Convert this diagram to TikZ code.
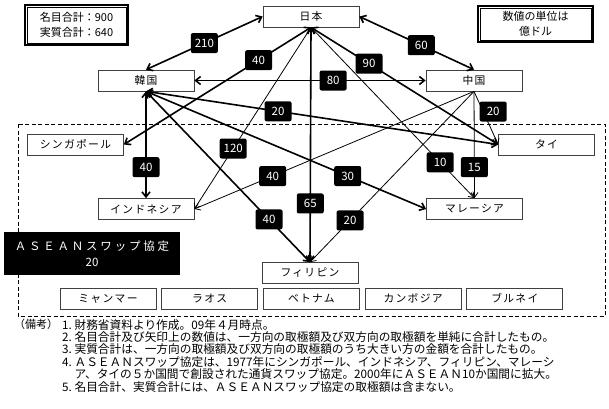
\documentclass[tikz,border=0pt]{standalone}
\usepackage{fontspec}
\setmainfont{Noto Sans CJK JP}
\newfontfamily\jpbox[LetterSpace=12]{Noto Sans CJK JP}
\newfontfamily\jpwide[LetterSpace=24]{Noto Sans CJK JP}
\usetikzlibrary{arrows.meta,positioning}

\begin{document}
\begin{tikzpicture}[
    x=1pt, y=-1pt,
    node distance=4pt and 5pt,
    cbox/.style={rectangle, draw=black!75, fill=white, line width=0.7pt, minimum width=96pt, minimum height=21pt, inner sep=0pt, font=\jpbox\fontsize{10.8}{12}\selectfont},
    val/.style={rectangle, fill=black, text=white, rounded corners=2pt, minimum width=27pt, minimum height=20pt, inner sep=1pt, font=\fontsize{11.5}{12}\selectfont},
    infobox/.style={rectangle, draw, line width=1.3pt, align=center, inner sep=0pt, font=\fontsize{11}{15}\selectfont},
    inframe/.style={line width=0.6pt},
    biarrow/.style={{Straight Barb[length=5pt,width=8pt]}-{Straight Barb[length=5pt,width=8pt]}, line width=1.6pt},
    uniarrow/.style={-{Straight Barb[length=5pt,width=7pt]}, line width=0.8pt}
]
    \useasboundingbox (0,0) rectangle (609,408);

    % ASEAN frame
    \draw[line width=1pt, dash pattern=on 4pt off 2.5pt] (18,124) rectangle (605,316);

    % countries
    \node[cbox] (jp) at (311,16.5) {日本};
    \node[cbox] (kr) at (146,80.5) {韓国};
    \node[cbox] (ch) at (474,80.5) {中国};
    \node[cbox] (sg) at (75.5,144.5) {シンガポール};
    \node[cbox] (th) at (546.5,144.5) {タイ};
    \node[cbox] (id) at (146,209) {インドネシア};
    \node[cbox] (my) at (474.5,209) {マレーシア};
    \node[cbox] (ph) at (310,273) {フィリピン};
    \node[cbox] (mm) at (108,298.5) {ミャンマー};
    \node[cbox, right=of mm] (la) {ラオス};
    \node[cbox, right=of la] (vn) {ベトナム};
    \node[cbox, right=of vn] (kh) {カンボジア};
    \node[cbox, right=of kh] (bn) {ブルネイ};

    \node[fill=black, text=white, minimum width=176pt, minimum height=43pt, inner sep=0pt, align=center, font=\fontsize{11.5}{16}\selectfont] (cmi) at (92,253.5) {{\jpwide ＡＳＥＡＮスワップ協定}\\20};

    \node[infobox, minimum width=103pt, minimum height=40pt] (total) at (76.5,25) {名目合計：900\\実質合計：640};
    \draw[inframe] ([xshift=2.6pt,yshift=-2.6pt]total.north west) rectangle ([xshift=-2.6pt,yshift=2.6pt]total.south east);
    \node[infobox, minimum width=115pt, minimum height=36pt] (unit) at (535.5,24) {数値の単位は\\億ドル};
    \draw[inframe] ([xshift=2.6pt,yshift=-2.6pt]unit.north west) rectangle ([xshift=-2.6pt,yshift=2.6pt]unit.south east);

    % two-way swaps
    \draw[biarrow] (jp.west) -- node[val, pos=0.5] {210} (kr.north);
    \draw[biarrow] (jp.east) -- node[val, pos=0.54] {60} (ch.north);
    \draw[biarrow] (ch.west) -- node[val, pos=0.4] {80} (kr.east);
    \draw[biarrow] (jp.south) -- node[val, pos=0.28] {40} (sg.east);
    \draw[biarrow] (jp.south) -- node[val, pos=0.31] {90} (th.west);
    \draw[biarrow] (jp.south) -- node[val, pos=0.75] {65} (ph.north);
    \draw[biarrow] (kr.south) -- node[val, pos=0.71] {40} (id.north);
    \draw[biarrow] (kr.south) -- node[val, pos=0.375] {20} (th.west);
    \draw[biarrow] (kr.south) -- node[val, pos=0.72] {30} (my.west);
    \draw[biarrow] (kr.south) -- node[val, pos=0.75] {40} (ph.north);
    % one-way swaps
    \draw[uniarrow] (jp.south) -- node[val, pos=0.667] {120} (id.east);
    \draw[uniarrow] (jp.south) -- node[val, pos=0.79] {10} (my.north);
    \draw[uniarrow] (ch.south) -- node[val, pos=0.72] {40} (id.east);
    \draw[uniarrow] (ch.south) -- node[val, pos=0.756] {20} (ph.north);
    \draw[uniarrow] (ch.south) -- node[val, pos=0.71] {15} (my.north);
    \draw[uniarrow] (ch.south) -- node[val, pos=0.38, xshift=10pt] {20} (th.west);

    % notes
    \node[anchor=north west, inner sep=0pt, font=\fontsize{11}{12.4}\selectfont] (bk) at (14,319) {（備考）};
    \node[anchor=north west, inner sep=0pt, align=left, font=\fontsize{11.7}{12.4}\selectfont] (notes) at (62,319) {%
        1.~財務省資料より作成。09年４月時点。\\
        2.~名目合計及び矢印上の数値は、一方向の取極額及び双方向の取極額を単純に合計したもの。\\
        3.~実質合計は、一方向の取極額及び双方向の取極額のうち大きい方の金額を合計したもの。\\
        4.~ＡＳＥＡＮスワップ協定は、1977年にシンガポール、インドネシア、フィリピン、マレーシ\\
        \hphantom{4.~}ア、タイの５か国間で創設された通貨スワップ協定。2000年にＡＳＥＡＮ10か国間に拡大。\\
        5.~名目合計、実質合計には、ＡＳＥＡＮスワップ協定の取極額は含まない。};
\end{tikzpicture}
\end{document}
